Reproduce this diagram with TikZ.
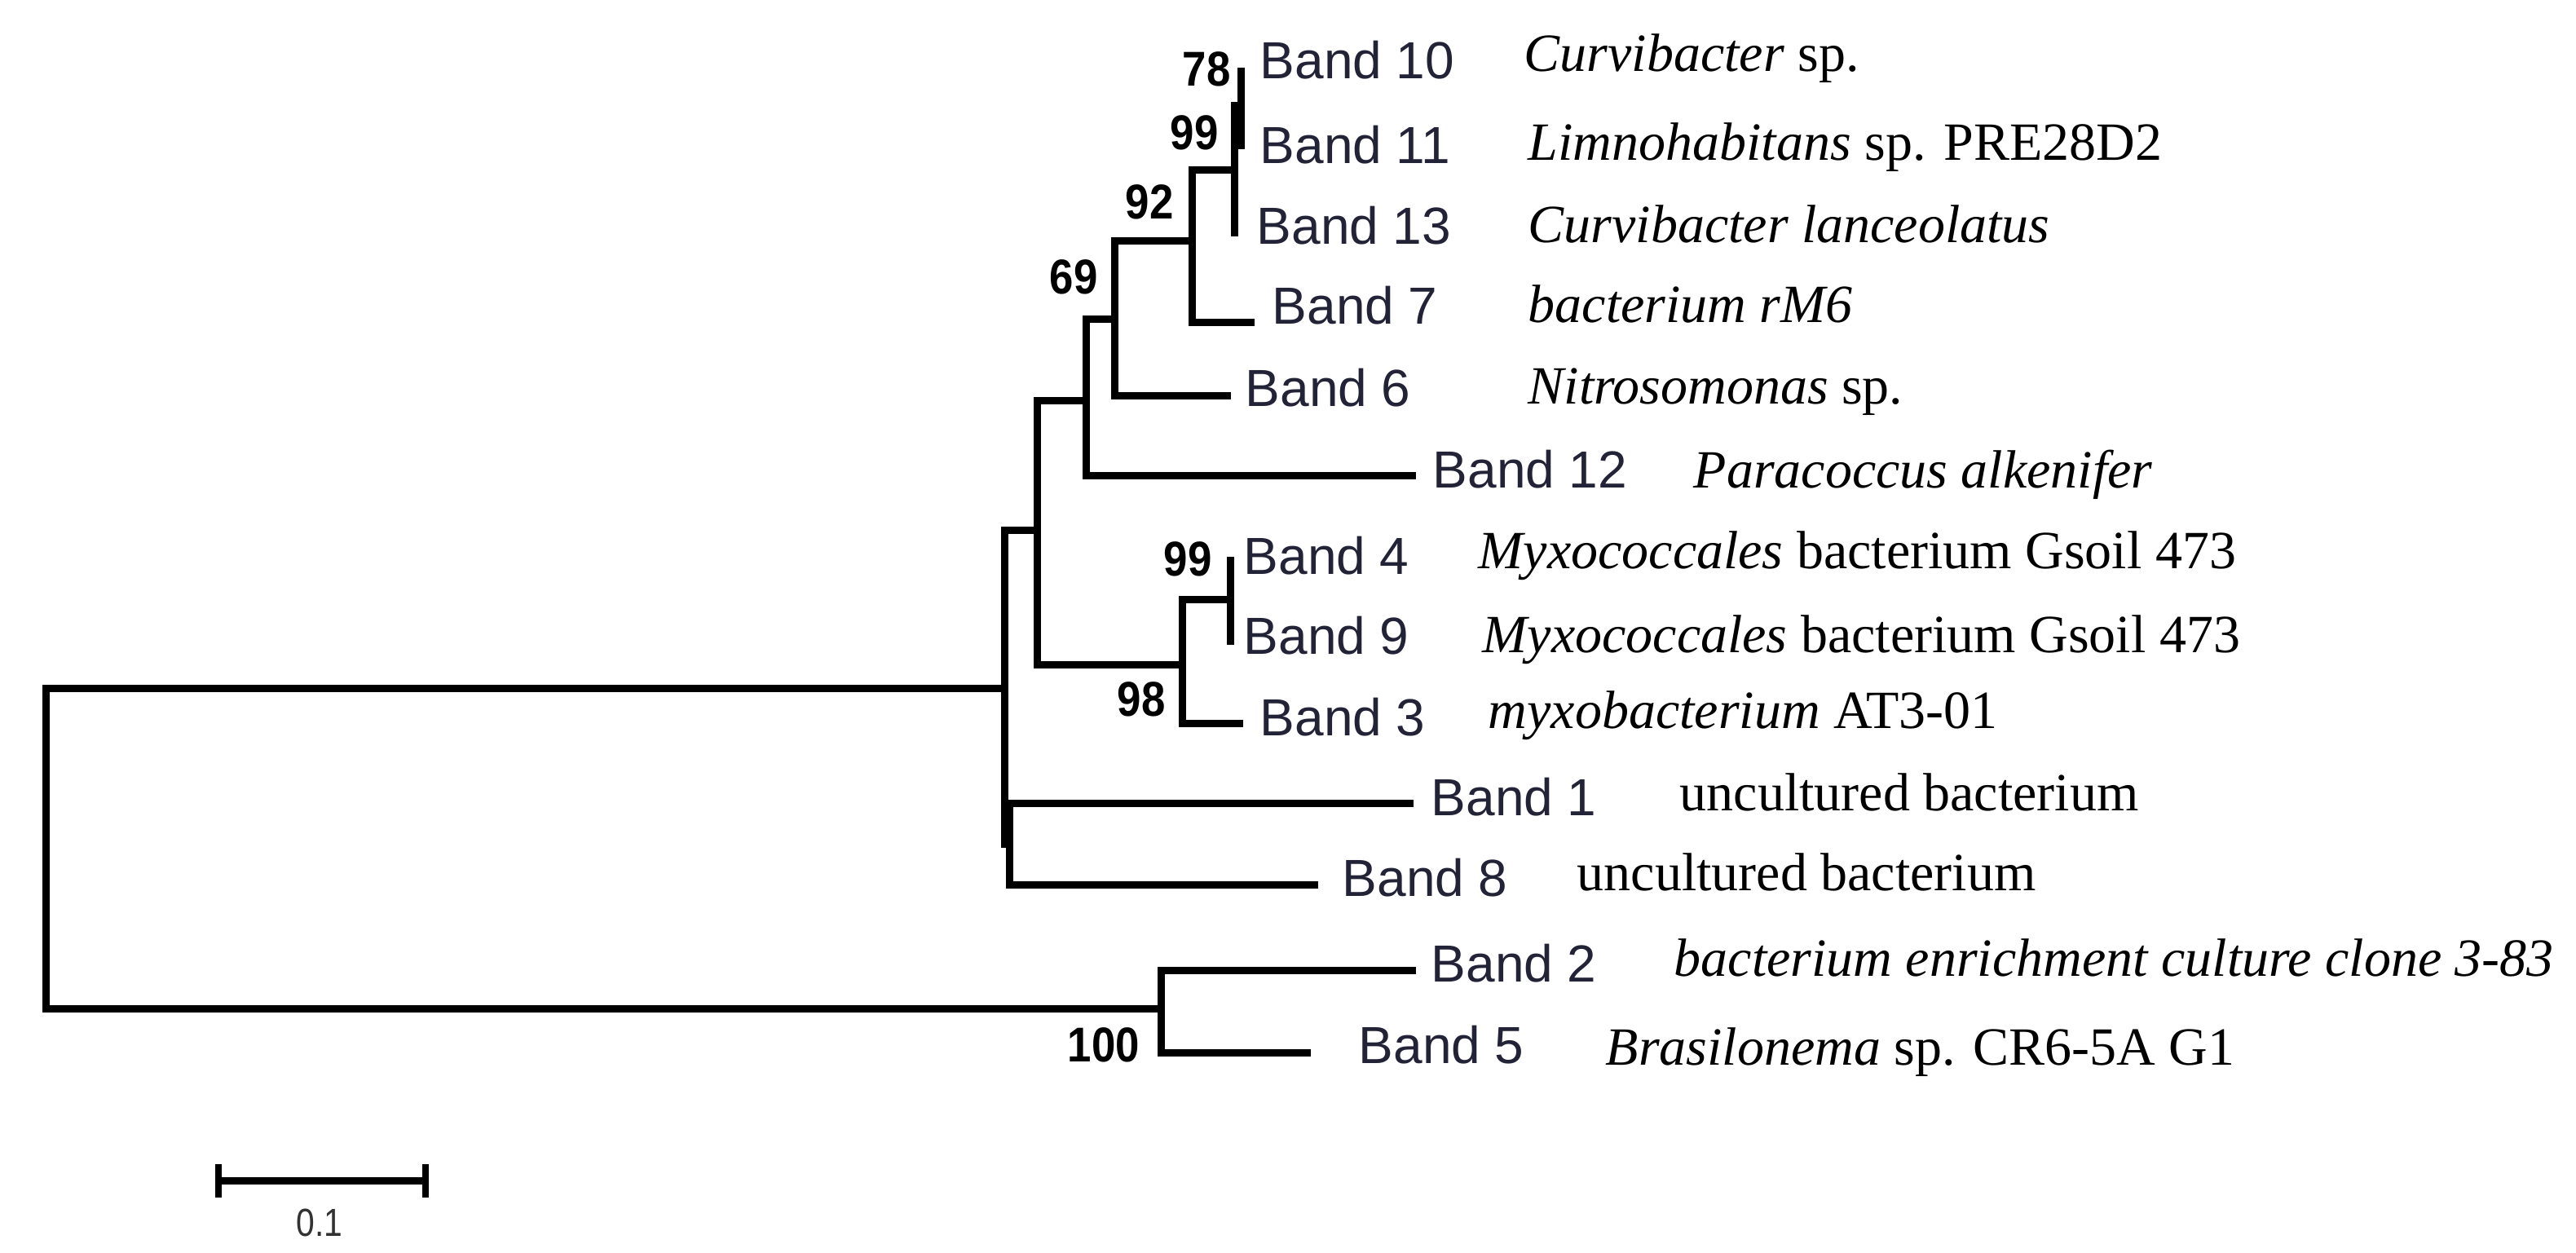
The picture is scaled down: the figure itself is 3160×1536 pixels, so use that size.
\documentclass[tikz,border=0pt]{standalone}
\usepackage{fontspec}
\setmainfont{Liberation Serif}
\newfontfamily\bandfont{Liberation Sans}
\usepackage{graphicx}
\definecolor{bandcol}{RGB}{35,35,55}
\definecolor{scalecol}{RGB}{50,50,50}
\begin{document}
\begin{tikzpicture}[x=0.25pt,y=-0.25pt,
  tree/.style={line width=2.25pt},
  band/.style={anchor=base west, inner sep=0pt, font=\bandfont\fontsize{16}{19}\selectfont, text=bandcol},
  spec/.style={anchor=base west, inner sep=0pt, font=\fontsize{16.5}{19}\selectfont},
  boot/.style={inner sep=0pt, font=\bandfont\bfseries\fontsize{15}{18}\selectfont}]
\useasboundingbox[fill=white] (0,0) rectangle (3160,1536);
% internal nodes
\coordinate (root) at (56,1040);
\coordinate (A) at (1232,844);
\coordinate (B) at (1272,650);
\coordinate (C) at (1238,1035);
\coordinate (D) at (1332,491);
\coordinate (E) at (1450,815);
\coordinate (F) at (1509,735);
\coordinate (G) at (1367,391);
\coordinate (H) at (1462,295);
\coordinate (I) at (1514,208);
\coordinate (J) at (1522,129);
\coordinate (K) at (1424,1237);
% leaf tips
\coordinate (t10) at (1522,83);
\coordinate (t11) at (1522,183);
\coordinate (t13) at (1514,290);
\coordinate (t7) at (1539,395);
\coordinate (t6) at (1510,485);
\coordinate (t12) at (1737,583);
\coordinate (t4) at (1509,683);
\coordinate (t9) at (1509,791);
\coordinate (t3) at (1525,887);
\coordinate (t1) at (1734,985);
\coordinate (t8) at (1617,1085);
\coordinate (t2) at (1737,1190);
\coordinate (t5) at (1608,1291);
% branches
\draw[tree] (root) |- (A);
\draw[tree] (root) |- (K);
\draw[tree] (A) |- (B);
\draw[tree] (A) |- (C);
\draw[tree] (B) |- (D);
\draw[tree] (B) |- (E);
\draw[tree] (D) |- (G);
\draw[tree] (D) |- (t12);
\draw[tree] (G) |- (H);
\draw[tree] (G) |- (t6);
\draw[tree] (H) |- (I);
\draw[tree] (H) |- (t7);
\draw[tree] (I) |- (J);
\draw[tree] (I) |- (t13);
\draw[tree] (J) |- (t10);
\draw[tree] (J) |- (t11);
\draw[tree] (E) |- (F);
\draw[tree] (E) |- (t3);
\draw[tree] (F) |- (t4);
\draw[tree] (F) |- (t9);
\draw[tree] (C) |- (t1);
\draw[tree] (C) |- (t8);
\draw[tree] (K) |- (t2);
\draw[tree] (K) |- (t5);
% band labels
\node[band] (b10) at (1545,96) {Band 10};
\node[band] (b11) at (1545,200) {Band 11};
\node[band] (b13) at (1541,299) {Band 13};
\node[band] (b7) at (1560,397) {Band 7};
\node[band] (b6) at (1527,498) {Band 6};
\node[band] (b12) at (1757,598) {Band 12};
\node[band] (b4) at (1525,704) {Band 4};
\node[band] (b9) at (1525,802) {Band 9};
\node[band] (b3) at (1545,902) {Band 3};
\node[band] (b1) at (1755,1000) {Band 1};
\node[band] (b8) at (1646,1099) {Band 8};
\node[band] (b2) at (1755,1204) {Band 2};
\node[band] (b5) at (1666,1304) {Band 5};
% species
\node[spec] (s10) at (1869,87) {\textit{Curvibacter} sp.};
\node[spec] (s11) at (1874,196) {\textit{Limnohabitans} sp. PRE28D2};
\node[spec] (s13) at (1874,297) {\textit{Curvibacter lanceolatus}};
\node[spec] (s7) at (1874,395) {\textit{bacterium rM6}};
\node[spec] (s6) at (1874,495) {\textit{Nitrosomonas} sp.};
\node[spec] (s12) at (2077,598) {\textit{Paracoccus alkenifer}};
\node[spec] (s4) at (1813,697) {\textit{Myxococcales} bacterium Gsoil 473};
\node[spec] (s9) at (1818,800) {\textit{Myxococcales} bacterium Gsoil 473};
\node[spec] (s3) at (1825,893) {\textit{myxobacterium} AT3-01};
\node[spec] (s1) at (2060,994) {uncultured bacterium};
\node[spec] (s8) at (1934,1092) {uncultured bacterium};
\node[spec] (s2) at (2053,1197) {\textit{bacterium enrichment culture clone 3-83}};
\node[spec] (s5) at (1969,1306) {\textit{Brasilonema} sp. CR6-5A G1};
% bootstrap values
\node[boot] (v78) at (1480,85) {\scalebox{0.88}[1]{78}};
\node[boot] (v99a) at (1465,163) {\scalebox{0.88}[1]{99}};
\node[boot] (v92) at (1410,248) {\scalebox{0.88}[1]{92}};
\node[boot] (v69) at (1317,340) {\scalebox{0.88}[1]{69}};
\node[boot] (v99b) at (1457,686) {\scalebox{0.88}[1]{99}};
\node[boot] (v98) at (1400,858) {\scalebox{0.88}[1]{98}};
\node[boot] (v100) at (1354,1282) {\scalebox{0.88}[1]{100}};
% scale bar
\coordinate (sbl) at (268,1448);
\coordinate (sbr) at (522,1448);
\draw[tree] (sbl) -- (sbr);
\draw[line width=2pt] ([yshift=20*0.25pt]sbl) -- ([yshift=-21*0.25pt]sbl);
\draw[line width=2pt] ([yshift=20*0.25pt]sbr) -- ([yshift=-21*0.25pt]sbr);
\node[inner sep=0pt, font=\bandfont\fontsize{12}{14}\selectfont, text=scalecol] (sbt) at (392,1500) {\scalebox{0.85}[1]{0.1}};
\end{tikzpicture}
\end{document}
